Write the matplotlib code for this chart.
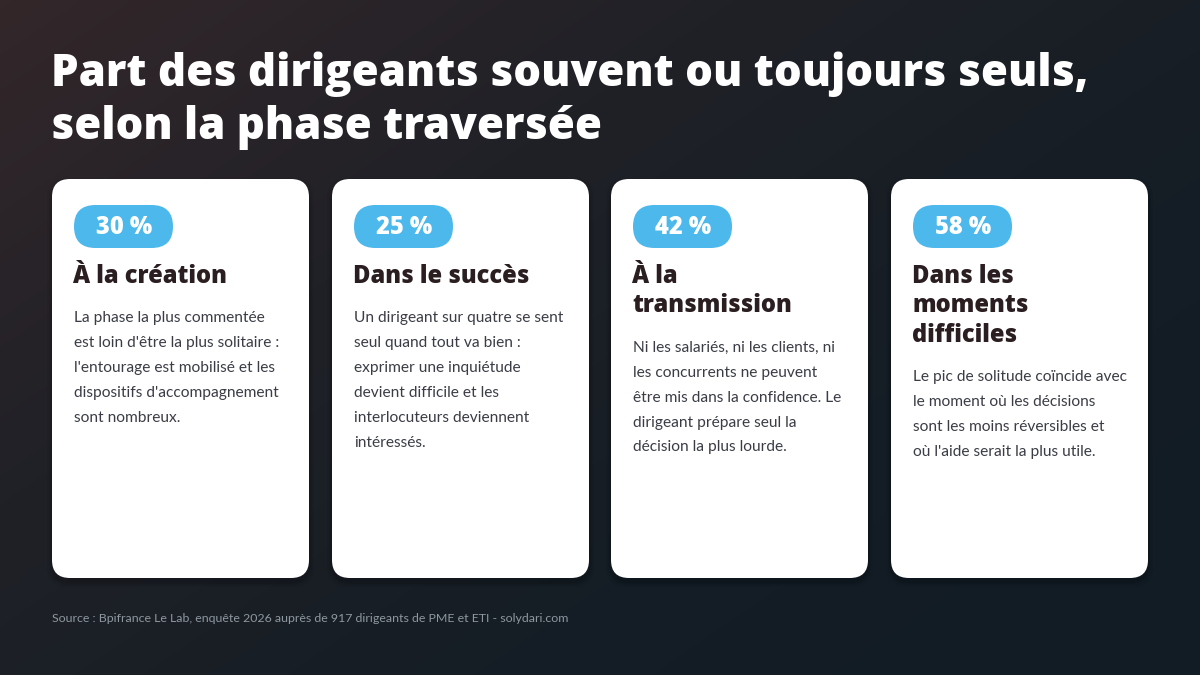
import matplotlib
matplotlib.use("Agg")
import matplotlib.pyplot as plt
import numpy as np
from matplotlib.patches import FancyBboxPatch
from matplotlib.colors import LinearSegmentedColormap

# ---- data ----
title_lines = ["Part des dirigeants souvent ou toujours seuls,",
               "selon la phase traversée"]
percentages = [30, 25, 42, 58]
phases = [
    ["À la création"],
    ["Dans le succès"],
    ["À la", "transmission"],
    ["Dans les", "moments", "difficiles"],
]
descriptions = [
    ["La phase la plus commentée", "est loin d'être la plus solitaire :",
     "l'entourage est mobilisé et les", "dispositifs d'accompagnement",
     "sont nombreux."],
    ["Un dirigeant sur quatre se sent", "seul quand tout va bien :",
     "exprimer une inquiétude", "devient difficile et les",
     "interlocuteurs deviennent", "intéressés."],
    ["Ni les salariés, ni les clients, ni", "les concurrents ne peuvent",
     "être mis dans la confidence. Le", "dirigeant prépare seul la",
     "décision la plus lourde."],
    ["Le pic de solitude coïncide avec", "le moment où les décisions",
     "sont les moins réversibles et", "où l'aide serait la plus utile."],
]
source = "Source : Bpifrance Le Lab, enquête 2026 auprès de 917 dirigeants de PME et ETI - solydari.com"

# ---- figure ----
W, H = 1200, 675
fig = plt.figure(figsize=(12, 6.75), dpi=100)
ax = fig.add_axes([0, 0, 1, 1])
ax.set_xlim(0, W)
ax.set_ylim(H, 0)
ax.axis("off")

# background diagonal gradient
yy, xx = np.mgrid[0:H:4, 0:W:4]
t = (xx / W * 0.55 + yy / H * 0.45)
cmap = LinearSegmentedColormap.from_list(
    "bg", ["#33272a", "#202127", "#151d25", "#111c25"])
ax.imshow(t, cmap=cmap, extent=[0, W, H, 0], aspect="auto", zorder=0,
          interpolation="bilinear")

heavy = "Open Sans"
body = "Lato"
for i, line in enumerate(title_lines):
    ax.text(51, 86 + i * 53, line, color="white", fontsize=31.5,
            fontweight=800, family=heavy, va="baseline", ha="left", zorder=5)

card_x0 = [52, 332, 611, 891]
card_w = 257
card_y0, card_y1 = 179, 578
for k in range(4):
    x0 = card_x0[k]
    # soft shadow
    for s, a in [(10, 0.05), (6, 0.06), (3, 0.08)]:
        sh = FancyBboxPatch((x0 - s / 2, card_y0 + 4 - s / 2), card_w + s,
                            card_y1 - card_y0 + s,
                            boxstyle="round,pad=0,rounding_size=20",
                            fc="black", ec="none", alpha=a, zorder=1)
        ax.add_patch(sh)
    card = FancyBboxPatch((x0, card_y0), card_w, card_y1 - card_y0,
                          boxstyle="round,pad=0,rounding_size=18",
                          fc="#ffffff", ec="none", zorder=2)
    ax.add_patch(card)
    # badge
    bx, by, bw, bh = x0 + 22, 205, 99, 43
    badge = FancyBboxPatch((bx, by), bw, bh,
                           boxstyle="round,pad=0,rounding_size=21.5",
                           fc="#4cb8ec", ec="none", zorder=3)
    ax.add_patch(badge)
    ax.text(bx + bw / 2 + 1, 234, f"{percentages[k]} %", color="white",
            fontsize=17, fontweight=800, family=heavy,
            ha="center", va="baseline", zorder=4)
    # heading
    for j, hl in enumerate(phases[k]):
        ax.text(x0 + 21, 283 + j * 29.5, hl, color="#2a1e21", fontsize=17,
                fontweight=800, family=heavy, ha="left", va="baseline",
                zorder=4)
    y_body = 322 + (len(phases[k]) - 1) * 29.5
    for j, bl in enumerate(descriptions[k]):
        ax.text(x0 + 22, y_body + j * 25, bl, color="#3a3d45", fontsize=11.2,
                family=body, ha="left", va="baseline", zorder=4)

ax.text(52, 622, source, color="#8e989f", fontsize=8.9, family=body,
        ha="left", va="baseline", zorder=4)

fig.savefig("out.png", dpi=100)
